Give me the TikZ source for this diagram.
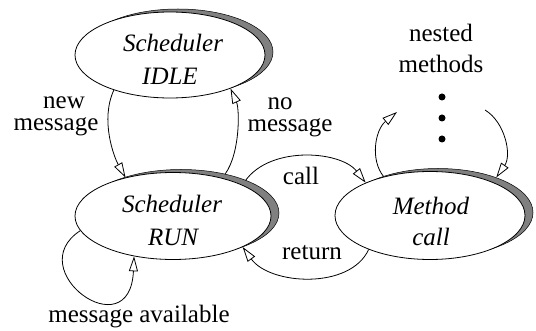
\documentclass[tikz,border=0pt]{standalone}
\usepackage{fontspec}
\setmainfont{Liberation Serif}
\usetikzlibrary{shapes.geometric,arrows.meta,backgrounds}
\definecolor{shadegray}{gray}{0.5}
\begin{document}
\begin{tikzpicture}[x=1pt,y=-1pt,
  every node/.style={font=\fontsize{25}{30}\selectfont, inner sep=0pt},
  ell/.style={ellipse, draw, fill=white, line width=0.8pt},
  shad/.style={ellipse, draw, fill=shadegray, line width=0.5pt},
  txt/.style={anchor=base},
  twoline/.style={anchor=base, align=center, font=\fontsize{25}{22}\selectfont},
  arr/.style={line width=0.8pt, -{Triangle[open, length=15pt, width=9pt, line width=0.8pt]}},
  dotn/.style={circle, fill=black, minimum size=7pt}]
\useasboundingbox (0,0) rectangle (536,331);
% shadows
\node[shad, minimum width=190pt, minimum height=86pt] (idleS) at (178,52) {};
\node[shad, minimum width=196pt, minimum height=87pt] (runS) at (181,213) {};
\node[shad, minimum width=190pt, minimum height=88pt] (methS) at (438,212.5) {};
% states
\node[ell, minimum width=190pt, minimum height=86pt] (idle) at (170,55) {};
\node[ell, minimum width=196pt, minimum height=87pt] (run) at (173,216) {};
\node[ell, minimum width=190pt, minimum height=88pt] (meth) at (430,215.5) {};
% state texts
\node[txt] (idleA) at (173,52) {\itshape Scheduler};
\node[txt] (idleB) at (170,85) {\itshape IDLE};
\node[txt] (runA) at (172,213) {\itshape Scheduler};
\node[txt] (runB) at (173,246) {\itshape RUN};
\node[txt] (methA) at (431,215) {\itshape Method};
\node[txt] (methB) at (431,246) {\itshape call};
% labels
\node[twoline] (lnew) at (56,131) {\hspace*{16pt}new\\message};
\node[twoline] (lno) at (290,132) {\hspace*{-20pt}no\\message};
\node[txt] (lcall) at (301,185) {call};
\node[txt] (lret) at (312,260) {return};
\node[txt] (lavail) at (139,323) {message available};
\node[txt, align=center, font=\fontsize{25}{31}\selectfont] (lnest) at (441,73) {nested\\methods};
% dots
\node[dotn] (d1) at (442,97) {};
\node[dotn] (d2) at (442,118) {};
\node[dotn] (d3) at (442,139) {};
\coordinate (nl) at (397,112);
\coordinate (nr) at (485,110);
% connectors
\begin{pgfonlayer}{background}
\draw[arr] (idle.212) .. controls (100,120) and (114,157) .. (run.141);
\draw[arr] (run.38) .. controls (240,160) and (240,110) .. (idle.-29);
\draw[arr] (run.189) .. controls (20,270) and (130,350) .. (run.226);
\draw[arr] (run.24) .. controls (265,145) and (340,150) .. (meth.153);
\draw[arr] (meth.209) .. controls (350,290) and (270,285) .. (run.-24);
\draw[arr] (meth.140) .. controls (370,160) and (375,130) .. (nl);
\draw[arr] (nr) .. controls (505,122) and (512,155) .. (methS.31);
\end{pgfonlayer}
\end{tikzpicture}
\end{document}
